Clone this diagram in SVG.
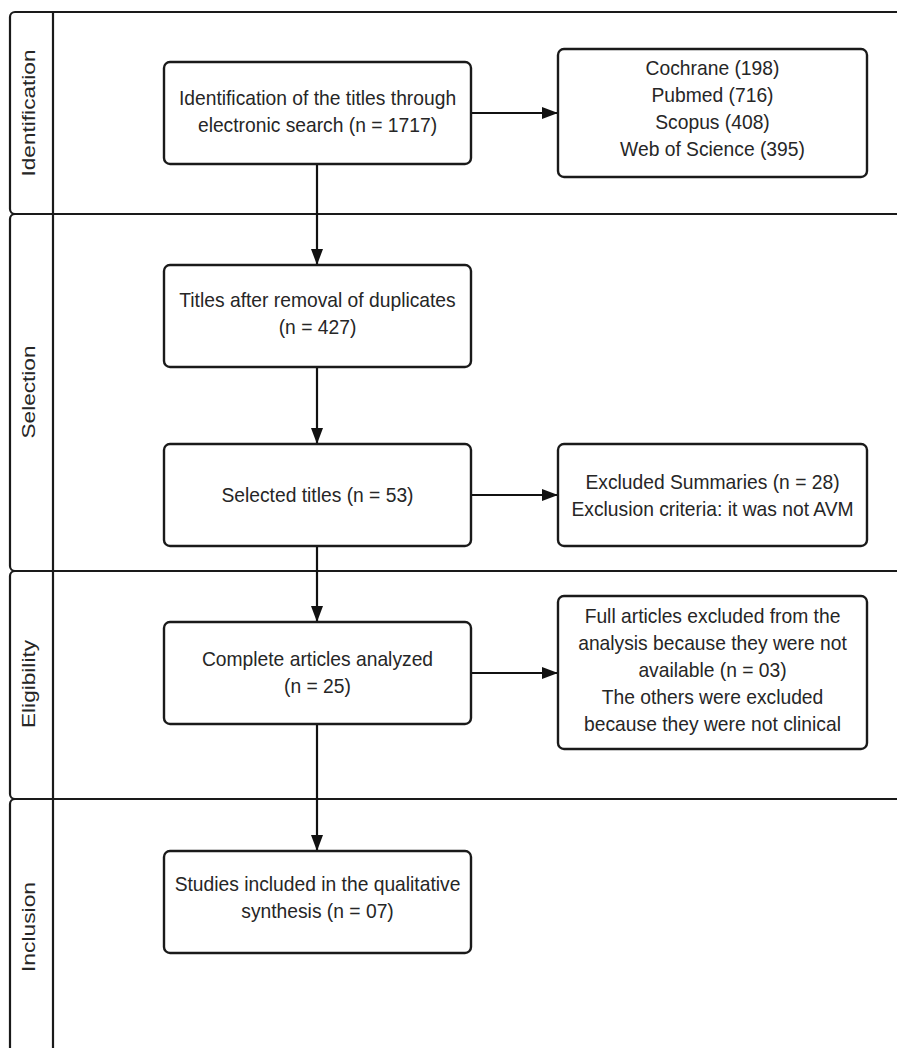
<svg xmlns="http://www.w3.org/2000/svg" width="897" height="1048" viewBox="0 0 897 1048">
<defs>
<style>
.lane{fill:none;stroke:#1a1a1a;stroke-width:2.2}
.box{fill:#fff;stroke:#1a1a1a;stroke-width:2.4}
.t{font-family:"Liberation Sans",Arial,sans-serif;font-size:20.5px;fill:#262626;text-anchor:middle}
.lt{font-family:"Liberation Sans",Arial,sans-serif;font-size:17.5px;fill:#262626;text-anchor:middle}
.c{fill:none;stroke:#111;stroke-width:2.2}
</style>
<marker id="ah" viewBox="0 0 16 12" refX="16" refY="6" markerWidth="16" markerHeight="12" markerUnits="userSpaceOnUse" orient="auto">
<path d="M0,0 L16,6 L0,12 Z" fill="#111"/>
</marker>
</defs>
<rect width="897" height="1048" fill="#fff"/>
<g id="lanes">
<rect class="lane" x="10" y="12" width="920" height="202" rx="5"/>
<rect class="lane" x="10" y="214" width="920" height="357" rx="5"/>
<rect class="lane" x="10" y="571" width="920" height="228" rx="5"/>
<rect class="lane" x="10" y="799" width="920" height="280" rx="5"/>
<line class="lane" x1="53" y1="12" x2="53" y2="1048"/>
<text class="lt" transform="translate(35,113) rotate(-90)" textLength="127" lengthAdjust="spacingAndGlyphs">Identification</text>
<text class="lt" transform="translate(35,392) rotate(-90)" textLength="93" lengthAdjust="spacingAndGlyphs">Selection</text>
<text class="lt" transform="translate(35,684) rotate(-90)" textLength="88" lengthAdjust="spacingAndGlyphs">Eligibility</text>
<text class="lt" transform="translate(35,927) rotate(-90)" textLength="90" lengthAdjust="spacingAndGlyphs">Inclusion</text>
</g>
<g id="connectors">
<line class="c" x1="317" y1="164" x2="317" y2="265" marker-end="url(#ah)"/>
<line class="c" x1="317" y1="367" x2="317" y2="444" marker-end="url(#ah)"/>
<line class="c" x1="317" y1="546" x2="317" y2="622" marker-end="url(#ah)"/>
<line class="c" x1="317" y1="724" x2="317" y2="851" marker-end="url(#ah)"/>
<line class="c" x1="471" y1="113" x2="558" y2="113" marker-end="url(#ah)"/>
<line class="c" x1="471" y1="495" x2="558" y2="495" marker-end="url(#ah)"/>
<line class="c" x1="471" y1="673" x2="558" y2="673" marker-end="url(#ah)"/>
</g>
<g id="n1">
<rect class="box" x="164" y="62" width="307" height="102" rx="6"/>
<g transform="translate(317.5 0) scale(0.94 1)">
<text class="t" x="0" y="105">Identification of the titles through</text>
<text class="t" x="0" y="132">electronic search (n = 1717)</text>
</g>
</g>
<g id="n2">
<rect class="box" x="558" y="49" width="309" height="128" rx="6"/>
<g transform="translate(712.5 0) scale(0.94 1)">
<text class="t" x="0" y="75">Cochrane (198)</text>
<text class="t" x="0" y="102">Pubmed (716)</text>
<text class="t" x="0" y="129">Scopus (408)</text>
<text class="t" x="0" y="156">Web of Science (395)</text>
</g>
</g>
<g id="n3">
<rect class="box" x="164" y="265" width="307" height="102" rx="6"/>
<g transform="translate(317.5 0) scale(0.94 1)">
<text class="t" x="0" y="307">Titles after removal of duplicates</text>
<text class="t" x="0" y="334">(n = 427)</text>
</g>
</g>
<g id="n4">
<rect class="box" x="164" y="444" width="307" height="102" rx="6"/>
<g transform="translate(317.5 0) scale(0.94 1)">
<text class="t" x="0" y="502">Selected titles (n = 53)</text>
</g>
</g>
<g id="n5">
<rect class="box" x="558" y="444" width="309" height="102" rx="6"/>
<g transform="translate(712.5 0) scale(0.94 1)">
<text class="t" x="0" y="489">Excluded Summaries (n = 28)</text>
<text class="t" x="0" y="516">Exclusion criteria: it was not AVM</text>
</g>
</g>
<g id="n6">
<rect class="box" x="164" y="622" width="307" height="102" rx="6"/>
<g transform="translate(317.5 0) scale(0.94 1)">
<text class="t" x="0" y="666">Complete articles analyzed</text>
<text class="t" x="0" y="693">(n = 25)</text>
</g>
</g>
<g id="n7">
<rect class="box" x="558" y="596" width="309" height="153" rx="6"/>
<g transform="translate(712.5 0) scale(0.94 1)">
<text class="t" x="0" y="623">Full articles excluded from the</text>
<text class="t" x="0" y="650">analysis because they were not</text>
<text class="t" x="0" y="677">available (n = 03)</text>
<text class="t" x="0" y="704">The others were excluded</text>
<text class="t" x="0" y="731">because they were not clinical</text>
</g>
</g>
<g id="n8">
<rect class="box" x="164" y="851" width="307" height="102" rx="6"/>
<g transform="translate(317.5 0) scale(0.94 1)">
<text class="t" x="0" y="891">Studies included in the qualitative</text>
<text class="t" x="0" y="918">synthesis (n = 07)</text>
</g>
</g>
</svg>
